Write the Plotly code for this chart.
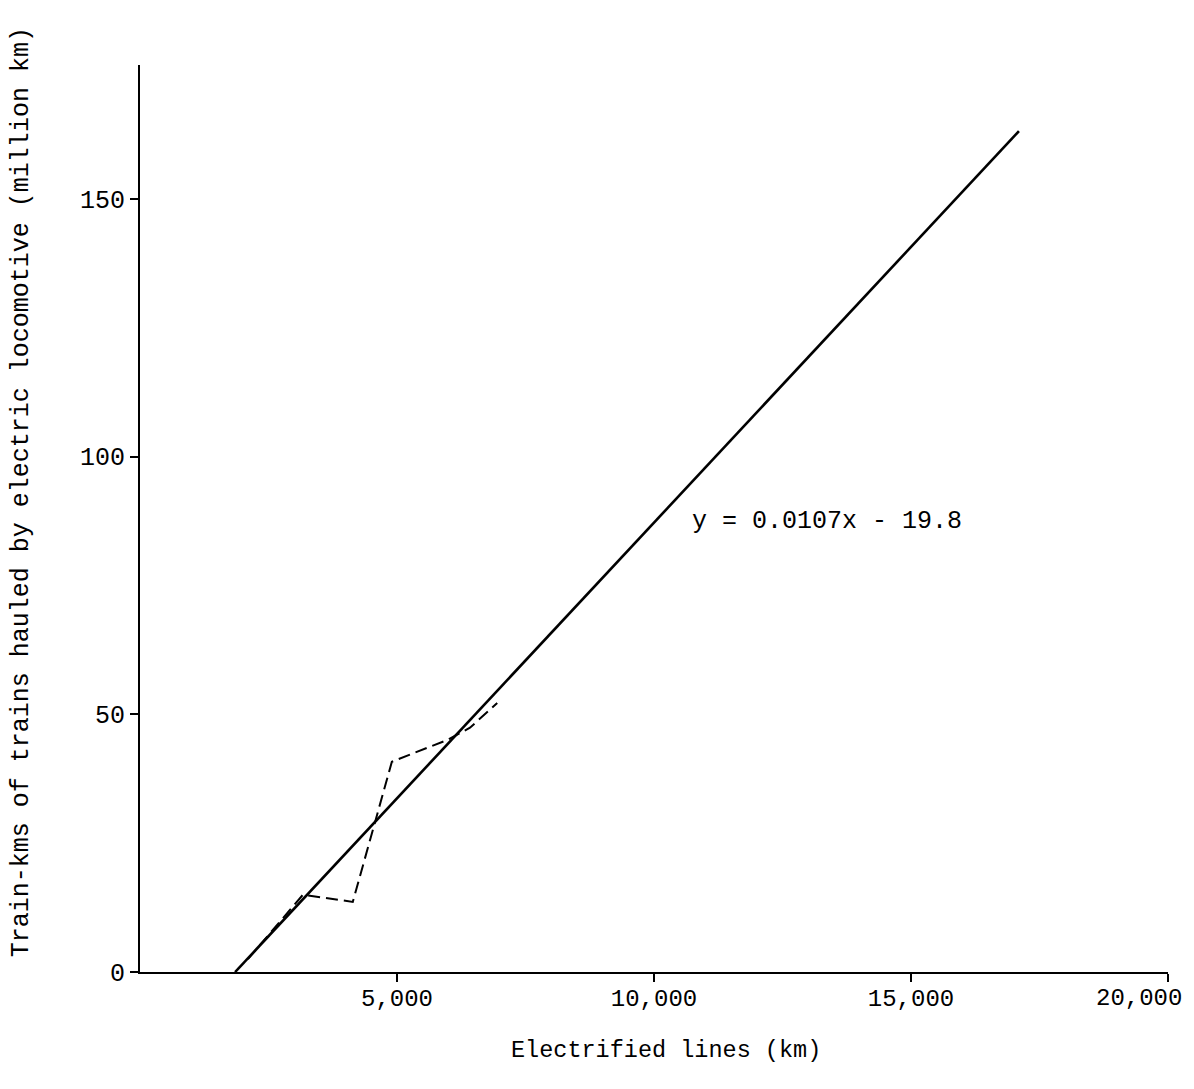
import plotly.graph_objects as go

# Fitted regression line y = 0.0107x - 19.8
fit_x = [1850, 17100]
slope = 0.0107
intercept = -19.8
fit_y = [slope * v + intercept for v in fit_x]

# Observed data (dashed)
obs_x = [2100, 3170, 4140, 4900, 5970, 6420, 6950]
obs_y = [2.5, 15.0, 13.6, 40.8, 45.0, 47.4, 52.2]

x_ticks = [5000, 10000, 15000, 20000]
x_tick_labels = ["5,000", "10,000", "15,000", "20,000"]
y_ticks = [0, 50, 100, 150]
y_tick_labels = ["0", "50", "100", "150"]

x_title = "Electrified lines (km)"
y_title = "Train-kms of trains hauled by electric locomotive (million km)"
equation = "y = 0.0107x - 19.8"

FONT = "Liberation Mono"

fig = go.Figure()
fig.add_trace(go.Scatter(x=obs_x, y=obs_y, mode="lines",
                         line=dict(color="black", width=2, dash="12px,6px"),
                         showlegend=False))
fig.add_trace(go.Scatter(x=fit_x, y=fit_y, mode="lines",
                         line=dict(color="black", width=2.6),
                         showlegend=False))

fig.add_annotation(x=10700, y=87.4, text=equation, showarrow=False,
                   xanchor="left", yanchor="middle",
                   font=dict(family=FONT, size=25, color="black"))

# last x tick label, nudged left to stay inside the page like in the original
fig.add_annotation(x=x_ticks[-1], y=0, xref="x", yref="y", text=x_tick_labels[-1],
                   showarrow=False, xanchor="right", yanchor="top",
                   xshift=16, yshift=-11,
                   font=dict(family=FONT, size=24, color="black"))

# axis titles
fig.add_annotation(xref="paper", yref="paper", x=0.5117, y=-0.086, text=x_title,
                   showarrow=False, xanchor="center", yanchor="middle",
                   font=dict(family=FONT, size=23.5, color="black"))
fig.add_annotation(xref="paper", yref="paper", x=-0.1157, y=0.529, text=y_title,
                   showarrow=False, xanchor="center", yanchor="middle", textangle=-90,
                   font=dict(family=FONT, size=25, color="black"))

fig.update_layout(
    width=1186, height=1081,
    margin=dict(l=132, r=26, t=57, b=117),
    paper_bgcolor="white", plot_bgcolor="white",
    font=dict(family=FONT, size=25, color="black"),
    xaxis=dict(range=[0, 20000], tickvals=x_ticks,
               ticktext=x_tick_labels[:-1] + [""],
               showgrid=False, zeroline=False, showline=True, linecolor="black",
               linewidth=2, ticks="outside", ticklen=8, tickwidth=1.5, tickcolor="black",
               automargin=False, ticklabelstandoff=-5,
               tickfont=dict(family=FONT, size=24)),
    yaxis=dict(range=[0, 176], tickvals=y_ticks, ticktext=y_tick_labels,
               showgrid=False, zeroline=False, showline=True, linecolor="black",
               linewidth=2, ticks="outside", ticklen=8, tickwidth=1.5, tickcolor="black",
               automargin=False,
               tickfont=dict(family=FONT, size=25)),
)

fig.write_html("out.html")
